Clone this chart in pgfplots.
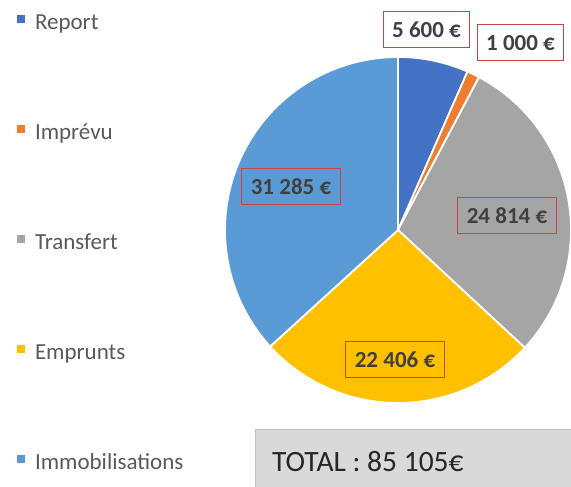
\documentclass[border=0pt]{standalone}
\usepackage{fontspec}
\setmainfont{Carlito}
\usepackage{pgfplots}
\pgfplotsset{compat=1.18}
\definecolor{cReport}{HTML}{4472C4}
\definecolor{cImprevu}{HTML}{ED7D31}
\definecolor{cTransfert}{HTML}{A5A5A5}
\definecolor{cEmprunts}{HTML}{FFC000}
\definecolor{cImmo}{HTML}{5B9BD5}
\definecolor{boxred}{RGB}{200,70,70}
\definecolor{legtext}{HTML}{595959}
\definecolor{labtext}{HTML}{404040}
% values (euros)
\def\vReport{5600}
\def\vImprevu{1000}
\def\vTransfert{24814}
\def\vEmprunts{22406}
\def\vImmo{31285}
\pgfkeys{/pgf/fpu=true,/pgf/fpu/output format=fixed}
\pgfmathsetmacro\tot{\vReport+\vImprevu+\vTransfert+\vEmprunts+\vImmo}
\pgfmathsetmacro\aA{90}
\pgfmathsetmacro\aB{\aA-\vReport/\tot*360}
\pgfmathsetmacro\aC{\aB-\vImprevu/\tot*360}
\pgfmathsetmacro\aD{\aC-\vTransfert/\tot*360}
\pgfmathsetmacro\aE{\aD-\vEmprunts/\tot*360}
\pgfmathsetmacro\aF{\aE-\vImmo/\tot*360}
\pgfkeys{/pgf/fpu=false}
\def\cx{398}
\def\cy{257}
\def\R{173}
\tikzset{lab/.style={draw=boxred, line width=1bp, text=labtext, font=\fontsize{23bp}{27bp}\selectfont\bfseries,
    inner xsep=9bp, minimum height=36bp}}
\begin{document}
\begin{tikzpicture}
\path[use as bounding box] (0,0) rectangle (571bp,487bp);
\begin{axis}[
  scale only axis, width=571bp, height=487bp,
  xmin=0, xmax=571, ymin=0, ymax=487,
  hide axis,
  legend cell align=left,
  legend style={draw=none, fill=none, at={(axis cs:16,474)}, anchor=north west,
    inner sep=0pt, row sep=88bp, font=\fontsize{23bp}{27bp}\selectfont, text=legtext,
    nodes={text height=14bp, text depth=4bp, inner sep=2bp}},
  every axis plot/.append style={draw=white, line width=1.8bp, samples=60, variable=\t,
    legend image code/.code={\path[#1,draw=none] (0bp,1.5bp) rectangle (8bp,9.5bp);
      \path (0bp,0bp) -- (15bp,0bp);}},
]
\addplot[fill=cReport, domain=\aB:\aA] ({\cx+\R*cos(\t)},{\cy+\R*sin(\t)}) -- (axis cs:\cx,\cy) -- cycle;
\addlegendentry{Report}
\addplot[fill=cImprevu, domain=\aC:\aB] ({\cx+\R*cos(\t)},{\cy+\R*sin(\t)}) -- (axis cs:\cx,\cy) -- cycle;
\addlegendentry{Imprévu}
\addplot[fill=cTransfert, domain=\aD:\aC] ({\cx+\R*cos(\t)},{\cy+\R*sin(\t)}) -- (axis cs:\cx,\cy) -- cycle;
\addlegendentry{Transfert}
\addplot[fill=cEmprunts, domain=\aE:\aD] ({\cx+\R*cos(\t)},{\cy+\R*sin(\t)}) -- (axis cs:\cx,\cy) -- cycle;
\addlegendentry{Emprunts}
\addplot[fill=cImmo, domain=\aF:\aE] ({\cx+\R*cos(\t)},{\cy+\R*sin(\t)}) -- (axis cs:\cx,\cy) -- cycle;
\addlegendentry{Immobilisations}
\node[lab] at (axis cs:426.5,457) {5~600~€};
\node[lab] at (axis cs:520.5,444) {1~000~€};
\node[lab] at (axis cs:507,271) {24~814~€};
\node[lab] at (axis cs:291,300) {31~285~€};
\node[lab] at (axis cs:395,127) {22~406~€};
\draw[fill={rgb,255:red,217;green,217;blue,217}, draw={rgb,255:red,191;green,191;blue,191}, line width=1bp]
  (axis cs:255,-2) rectangle (axis cs:575,57);
\node[anchor=west, font=\fontsize{29.5bp}{33bp}\selectfont, text={rgb,255:red,38;green,38;blue,38}, inner sep=0pt]
  at (axis cs:272,25) {TOTAL : 85 105€};
\end{axis}
\end{tikzpicture}
\end{document}
